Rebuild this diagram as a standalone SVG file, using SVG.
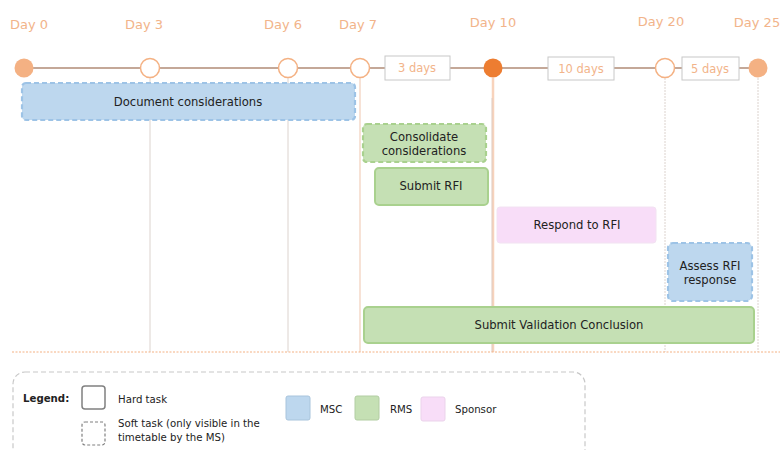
<svg xmlns="http://www.w3.org/2000/svg" width="780" height="450" viewBox="0 0 780 450">
<style>
text{font-family:"DejaVu Sans",Verdana,sans-serif;fill:#222;}
.day{font-size:13px;fill:#F2B48A;text-anchor:middle;}
.dur{font-size:11.5px;fill:#F2B48A;text-anchor:middle;}
.t{font-size:11.6px;text-anchor:middle;}
.l{font-size:10.2px;}
.msc{fill:#BDD7EE;}
.rms{fill:#C5E0B4;}
.sp{fill:#F8DDF8;}
.soft-b{stroke:#9DC3E6;stroke-width:2.2;stroke-dasharray:5 3;}
.soft-g{stroke:#A9D18E;stroke-width:2.2;stroke-dasharray:5 3;}
.hard-g{stroke:#A9D18E;stroke-width:2;}
.hollow{fill:#fff;stroke:#F4B183;stroke-width:1.5;}
.vl{stroke:#DCD3CE;stroke-width:1;}
.box{fill:#fff;stroke:#C8C8C8;stroke-width:1;}
</style>
<rect width="780" height="450" fill="#fff"/>
<g id="connectors">
<line x1="24" y1="68" x2="758" y2="68" stroke="#C4A898" stroke-width="2"/>
<line class="vl" x1="150" y1="78" x2="150" y2="352"/>
<line class="vl" x1="288" y1="78" x2="288" y2="352"/>
<line x1="360" y1="78" x2="360" y2="352" stroke="#F4D9C8" stroke-width="1.5"/>
<line x1="493" y1="78" x2="493" y2="352" stroke="#F8D3BC" stroke-width="2.5"/>
<line x1="492" y1="98" x2="492" y2="352" stroke="#D8CCC4" stroke-width="0.8"/>
<line class="vl" x1="665" y1="78" x2="665" y2="352" stroke-dasharray="2 1"/>
<line class="vl" x1="758" y1="78" x2="758" y2="352" stroke-dasharray="2 1"/>
<line x1="12" y1="352" x2="780" y2="352" stroke="#F4B183" stroke-width="1" stroke-dasharray="2 1.5"/>
</g>
<g id="day0"><circle cx="24" cy="68" r="9.5" fill="#F4B183"/><text class="day" x="29" y="29">Day 0</text></g>
<g id="day3"><circle class="hollow" cx="150" cy="68" r="9.5"/><text class="day" x="144" y="29">Day 3</text></g>
<g id="day6"><circle class="hollow" cx="288" cy="68" r="9.5"/><text class="day" x="283" y="29">Day 6</text></g>
<g id="day7"><circle class="hollow" cx="360" cy="68" r="9.5"/><text class="day" x="358" y="29">Day 7</text></g>
<g id="day10"><circle cx="493" cy="68" r="9.5" fill="#ED7D31"/><text class="day" x="493" y="27">Day 10</text></g>
<g id="day20"><circle class="hollow" cx="665" cy="68" r="9.5"/><text class="day" x="661" y="26">Day 20</text></g>
<g id="day25"><circle cx="758" cy="68" r="9.5" fill="#F4B183"/><text class="day" x="757" y="27">Day 25</text></g>
<g id="dur3"><rect class="box" x="385" y="56" width="65" height="24"/><text class="dur" x="417" y="72">3 days</text></g>
<g id="dur10"><rect class="box" x="548" y="57" width="66" height="23"/><text class="dur" x="581" y="73">10 days</text></g>
<g id="dur5"><rect class="box" x="682" y="57" width="57" height="23"/><text class="dur" x="710" y="73">5 days</text></g>
<g id="document-considerations"><rect class="msc soft-b" x="22" y="83" width="333" height="37" rx="4"/><text class="t" x="188" y="106">Document considerations</text></g>
<g id="consolidate-considerations"><rect class="rms soft-g" x="363" y="124" width="123" height="38" rx="4"/><text class="t" x="424" y="141">Consolidate</text><text class="t" x="424" y="155">considerations</text></g>
<g id="submit-rfi"><rect class="rms hard-g" x="375" y="168" width="113" height="37" rx="4"/><text class="t" x="431" y="190">Submit RFI</text></g>
<g id="respond-rfi"><rect class="sp" x="497" y="207" width="159" height="36" rx="3" stroke="#F2E2F2" stroke-width="1"/><text class="t" x="577" y="229">Respond to RFI</text></g>
<g id="assess-rfi"><rect class="msc soft-b" x="668" y="243" width="84" height="58" rx="5"/><text class="t" x="710" y="270">Assess RFI</text><text class="t" x="710" y="284">response</text></g>
<g id="submit-validation"><rect class="rms hard-g" x="364" y="307" width="390" height="36" rx="4"/><text class="t" x="559" y="329">Submit Validation Conclusion</text></g>
<g id="legend">
<rect x="13" y="372" width="572" height="92" rx="12" fill="none" stroke="#C8C8C8" stroke-width="1.2" stroke-dasharray="5 3"/>
<text class="l" x="23" y="402" font-weight="bold">Legend:</text>
<rect x="82" y="386" width="23" height="23" rx="3" fill="#fff" stroke="#808080" stroke-width="1.5"/>
<text class="l" x="118" y="403">Hard task</text>
<rect x="82" y="422" width="23" height="23" rx="3" fill="#fff" stroke="#808080" stroke-width="1.2" stroke-dasharray="3 2"/>
<text class="l" x="118" y="427">Soft task (only visible in the</text>
<text class="l" x="118" y="441">timetable by the MS)</text>
<rect class="msc" x="286" y="396" width="24" height="24" rx="2" stroke="#A8C4DC" stroke-width="1"/>
<text class="l" x="320" y="413">MSC</text>
<rect class="rms" x="355" y="396" width="24" height="24" rx="2" stroke="#B2CDA2" stroke-width="1"/>
<text class="l" x="390" y="413">RMS</text>
<rect class="sp" x="421" y="397" width="24" height="24" rx="2" stroke="#EBD3EB" stroke-width="1"/>
<text class="l" x="455" y="413">Sponsor</text>
</g>
</svg>
